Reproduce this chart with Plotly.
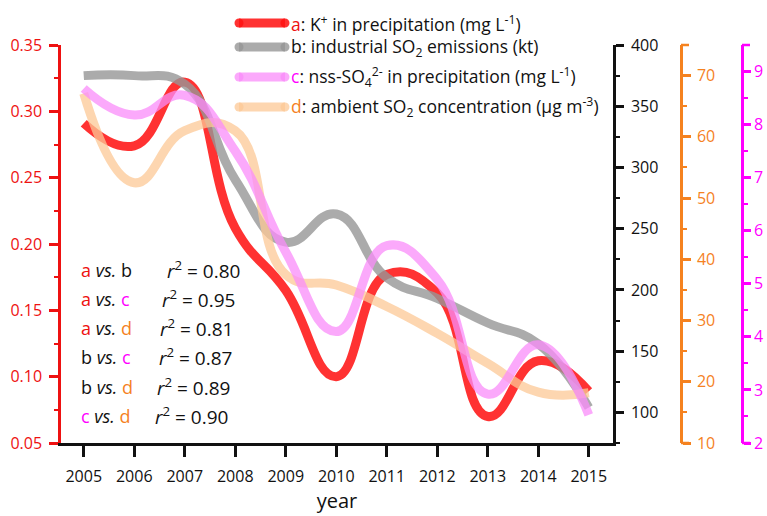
import plotly.graph_objects as go

# ---------------- data ----------------
years = [2005, 2006, 2007, 2008, 2009, 2010, 2011, 2012, 2013, 2014, 2015]
k_precip = [0.291, 0.274, 0.322, 0.212, 0.165, 0.100, 0.177, 0.163, 0.070, 0.112, 0.089]      # a, mg/L
so2_emissions = [375, 375, 368, 290, 239, 262, 210, 193, 173, 156, 104]                        # b, kt
nss_so4 = [8.68, 8.18, 8.55, 7.50, 5.60, 4.10, 5.72, 5.08, 2.92, 3.85, 2.53]                  # c, mg/L
ambient_so2 = [67.1, 52.5, 61.0, 61.0, 37.5, 35.8, 32.3, 27.9, 23.0, 18.3, 18.2]              # d, ug/m3

pair_labels = ["a vs. b", "a vs. c", "a vs. d", "b vs. c", "b vs. d", "c vs. d"]
r2_values = [0.80, 0.95, 0.81, 0.87, 0.89, 0.90]

# ---------------- style ----------------
FONT = "Open Sans"
RED = "#ee1111"
ORANGE = "#f5821f"
MAGENTA = "#ff00ff"
BLACK = "#111111"
LC_A = "rgba(255,20,20,0.87)"
LC_B = "rgba(150,150,150,0.8)"
LC_C = "rgba(250,140,250,0.75)"
LC_D = "rgba(252,200,150,0.75)"
LW = 9

W, H = 767, 516
L, R, T, B = 61, 25, 45, 73
PW = W - L - R          # paper width in px
PH = H - T - B          # paper height in px
X_AX_RIGHT = 613
X_ORANGE = 681
X_MAG = 742

def px_x(x):
    return (x - L) / PW

def px_y(y):
    return (H - B - y) / PH

fig = go.Figure()
common = dict(x=years, mode="lines", line_shape="spline", showlegend=False, hoverinfo="skip")
fig.add_trace(go.Scatter(y=ambient_so2, yaxis="y3", line=dict(color=LC_D, width=LW, smoothing=1.3), **common))
fig.add_trace(go.Scatter(y=so2_emissions, yaxis="y2", line=dict(color=LC_B, width=LW, smoothing=1.3), **common))
fig.add_trace(go.Scatter(y=k_precip, yaxis="y", line=dict(color=LC_A, width=LW, smoothing=1.3), **common))
fig.add_trace(go.Scatter(y=nss_so4, yaxis="y4", line=dict(color=LC_C, width=LW, smoothing=1.3), **common))

fig.update_layout(
    width=W, height=H, autosize=False,
    margin=dict(l=L, r=R, t=T, b=B, pad=0, autoexpand=False),
    paper_bgcolor="white", plot_bgcolor="white",
    showlegend=False,
    font=dict(family=FONT, size=16, color=BLACK),
    xaxis=dict(
        domain=[0, (X_AX_RIGHT - L) / PW], automargin=False,
        range=[2004.55, 2015.48],
        tickmode="array", tickvals=years, ticktext=[str(y) for y in years],
        ticks="outside", ticklen=11, tickwidth=2.5, tickcolor=BLACK,
        showline=True, linecolor=BLACK, linewidth=2.5,
        showgrid=False, zeroline=False,
        tickfont=dict(family=FONT, size=16, color=BLACK),
        ticklabelstandoff=6,
        title=dict(text="year", font=dict(family=FONT, size=20, color=BLACK), standoff=4),
    ),
    yaxis=dict(
        automargin=False,
        range=[0.05, 0.35], dtick=0.05, tick0=0.05, tickformat=".2f",
        ticks="outside", ticklen=9, tickwidth=2.5, tickcolor=RED,
        showline=True, linecolor=RED, linewidth=2.5,
        showgrid=False, zeroline=False,
        tickfont=dict(family=FONT, size=16, color=RED),
        minor=dict(dtick=0.025, tick0=0.025, ticks="outside", ticklen=4, tickwidth=2, tickcolor=RED),
        ticklabelstandoff=4,
    ),
    yaxis2=dict(
        automargin=False,
        overlaying="y", side="right", anchor="x",
        range=[75, 400], tickvals=[100, 150, 200, 250, 300, 350, 400],
        ticks="outside", ticklen=8, tickwidth=2.5, tickcolor=BLACK,
        showline=True, linecolor=BLACK, linewidth=2.5,
        showgrid=False, zeroline=False,
        tickfont=dict(family=FONT, size=16, color=BLACK),
        minor=dict(dtick=25, tick0=0, ticks="outside", ticklen=4, tickwidth=2, tickcolor=BLACK),
        ticklabelstandoff=4,
    ),
    yaxis3=dict(
        automargin=False,
        overlaying="y", side="right", anchor="free", position=px_x(X_ORANGE),
        range=[10, 75], tickvals=[10, 20, 30, 40, 50, 60, 70],
        ticks="outside", ticklen=8, tickwidth=2.5, tickcolor=ORANGE,
        showline=True, linecolor=ORANGE, linewidth=2.5,
        showgrid=False, zeroline=False,
        tickfont=dict(family=FONT, size=16, color=ORANGE),
        minor=dict(dtick=5, tick0=0, ticks="outside", ticklen=4, tickwidth=2, tickcolor=ORANGE),
        ticklabelstandoff=3,
    ),
    yaxis4=dict(
        automargin=False,
        overlaying="y", side="right", anchor="free", position=px_x(X_MAG),
        range=[2, 9.5], tickvals=[2, 3, 4, 5, 6, 7, 8, 9],
        ticks="outside", ticklen=7, tickwidth=2.5, tickcolor=MAGENTA,
        showline=True, linecolor=MAGENTA, linewidth=2.5,
        showgrid=False, zeroline=False,
        tickfont=dict(family=FONT, size=16, color=MAGENTA),
        minor=dict(dtick=0.5, tick0=0, ticks="outside", ticklen=4, tickwidth=2, tickcolor=MAGENTA),
        ticklabelstandoff=0,
    ),
)

# bracket ends on the free right axes
shapes = []
for xpx, col in [(X_ORANGE, ORANGE), (X_MAG, MAGENTA)]:
    for ypx in (T, H - B):
        shapes.append(dict(type="line", xref="paper", yref="paper",
                           x0=px_x(xpx), x1=px_x(xpx + 8), y0=px_y(ypx), y1=px_y(ypx),
                           line=dict(color=col, width=2.5)))

# legend (custom, above plot)
legend_rows = [
    ("<span style='color:%s'>a</span>: K<sup>+</sup> in precipitation (mg L<sup>-1</sup>)" % RED, LC_A, 23),
    ("b: industrial SO<sub>2</sub> emissions (kt)", LC_B, 47),
    ("<span style='color:%s'>c</span>: nss-SO<sub>4</sub><sup>2-</sup> in precipitation (mg L<sup>-1</sup>)" % MAGENTA, LC_C, 77),
    ("<span style='color:%s'>d</span>: ambient SO<sub>2</sub> concentration (μg m<sup>-3</sup>)" % ORANGE, LC_D, 107),
]
annotations = []
for text, col, ypx in legend_rows:
    shapes.append(dict(type="line", xref="paper", yref="paper",
                       x0=px_x(239), x1=px_x(285), y0=px_y(ypx), y1=px_y(ypx),
                       line=dict(color=col, width=LW)))
    for xe in (239, 285):
        shapes.append(dict(type="circle", xref="paper", yref="paper",
                           xsizemode="pixel", ysizemode="pixel",
                           xanchor=px_x(xe), yanchor=px_y(ypx),
                           x0=-LW / 2, x1=LW / 2, y0=-LW / 2, y1=LW / 2,
                           fillcolor=col, line=dict(width=0)))
    annotations.append(dict(xref="paper", yref="paper", x=px_x(290), y=px_y(ypx),
                            xanchor="left", yanchor="middle", showarrow=False, borderpad=0,
                            text=text, font=dict(family=FONT, size=17.5, color=BLACK)))

# r^2 block
letter_col = {"a": RED, "b": BLACK, "c": MAGENTA, "d": ORANGE}
row_y = [270, 299, 328, 357, 387, 416]
r2_x = [166, 161, 159, 158, 156, 154]
for lab, r2, ypx, rx in zip(pair_labels, r2_values, row_y, r2_x):
    p, _, q = lab.split(" ")
    txt = "<span style='color:%s'>%s</span> <i>vs.</i> <span style='color:%s'>%s</span>" % (
        letter_col[p], p, letter_col[q], q)
    annotations.append(dict(xref="paper", yref="paper", x=px_x(80), y=px_y(ypx),
                            xanchor="left", yanchor="middle", showarrow=False, borderpad=0,
                            text=txt, font=dict(family=FONT, size=18, color=BLACK)))
    annotations.append(dict(xref="paper", yref="paper", x=px_x(rx), y=px_y(ypx),
                            xanchor="left", yanchor="middle", showarrow=False, borderpad=0,
                            text="<i>r</i><sup>2</sup> = %.2f" % r2,
                            font=dict(family=FONT, size=19, color=BLACK)))

fig.update_layout(shapes=shapes, annotations=annotations)
fig.write_html("out.html", config={"displayModeBar": False},
               post_script="document.body.style.margin='0';document.body.style.padding='0';")
